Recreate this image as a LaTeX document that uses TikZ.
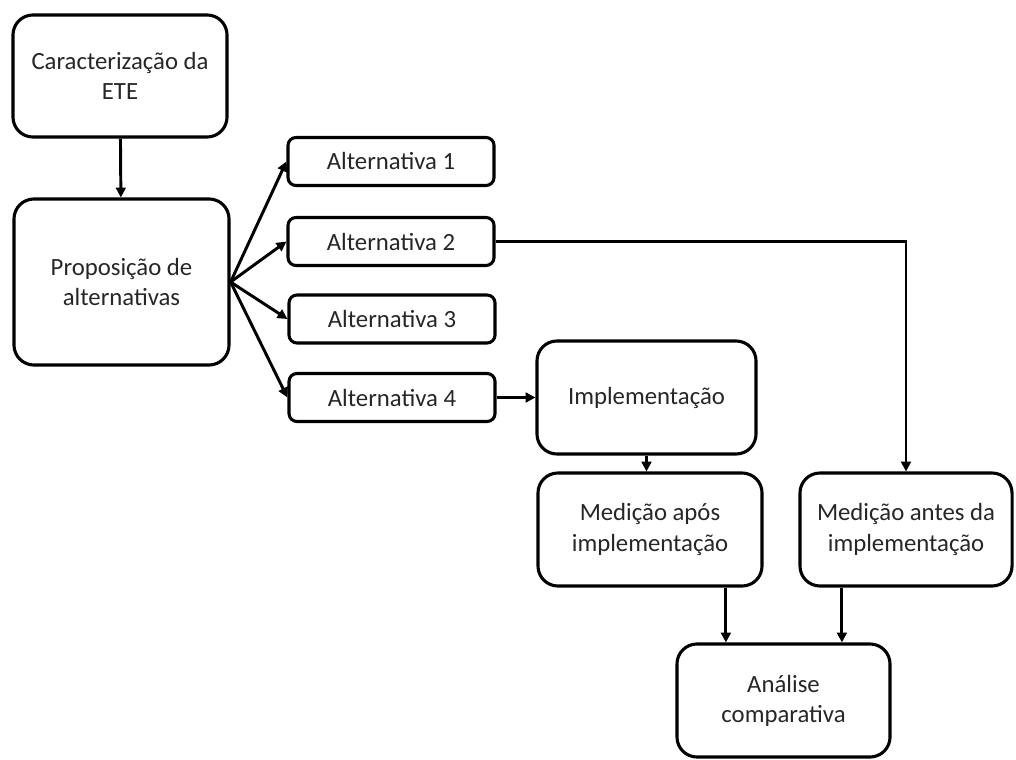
\documentclass[tikz,border=0pt]{standalone}
\usepackage{fontspec}
\setmainfont{Carlito}
\usepackage{tikz}
\usetikzlibrary{arrows.meta,positioning}

\begin{document}
\begin{tikzpicture}[x=0.025cm,y=-0.025cm,
        font=\fontsize{17.6}{21.4}\selectfont,
        bigbox/.style={draw,line width=2.2pt,rounded corners=0.5cm,align=center,inner sep=0pt,text=black!85},
        altbox/.style={draw,line width=2.2pt,rounded corners=0.2cm,align=center,inner sep=0pt,text=black!85,
            minimum width=5.15cm,minimum height=1.2cm},
        arr/.style={-{Triangle[length=7pt,width=7pt]},line width=2.1pt}]
        \useasboundingbox (0,0) rectangle (1016,760);

        \node[bigbox,minimum width=5.35cm,minimum height=3.05cm] (cara) at (120,76) {Caracterização da\\ETE};
        \node[bigbox,minimum width=5.375cm,minimum height=4.15cm] (prop) at (121.5,282) {Proposição de\\alternativas};

        \node[altbox] (alt1) at (391,161.5) {Alternativa 1};
        \node[altbox] (alt2) at (391,241.5) {Alternativa 2};
        \node[altbox] (alt3) at (392,319) {Alternativa 3};
        \node[altbox] (alt4) at (392,397.5) {Alternativa 4};

        \node[bigbox,minimum width=5.475cm,minimum height=2.825cm] (impl) at (646.5,397.5) {Implementação};
        \node[bigbox,minimum width=5.6cm,minimum height=2.825cm] (medapos) at (650,529.5) {Medição após\\implementação};
        \node[bigbox,minimum width=5.3cm,minimum height=2.825cm] (medantes) at (906,529.5) {Medição antes da\\implementação};
        \node[bigbox,minimum width=5.325cm,minimum height=2.825cm] (analise) at (783.5,700.5) {Análise\\comparativa};

        \draw[arr] (cara) -- (prop);
        \foreach \k in {1,...,4} {
            \draw[arr] (prop.east) -- (alt\k.west);
        }
        \draw[arr] (alt2.east) -| (medantes.north);
        \draw[arr] (alt4.east) -- (alt4.east -| impl.west);
        \draw[arr] (impl.south) -- (impl.south |- medapos.north);

        \coordinate (inA) at ([xshift=-1.44cm]analise.north);
        \coordinate (inB) at ([xshift=1.46cm]analise.north);
        \draw[arr] (medapos.south -| inA) -- (inA);
        \draw[arr] (medantes.south -| inB) -- (inB);
    \end{tikzpicture}
\end{document}
